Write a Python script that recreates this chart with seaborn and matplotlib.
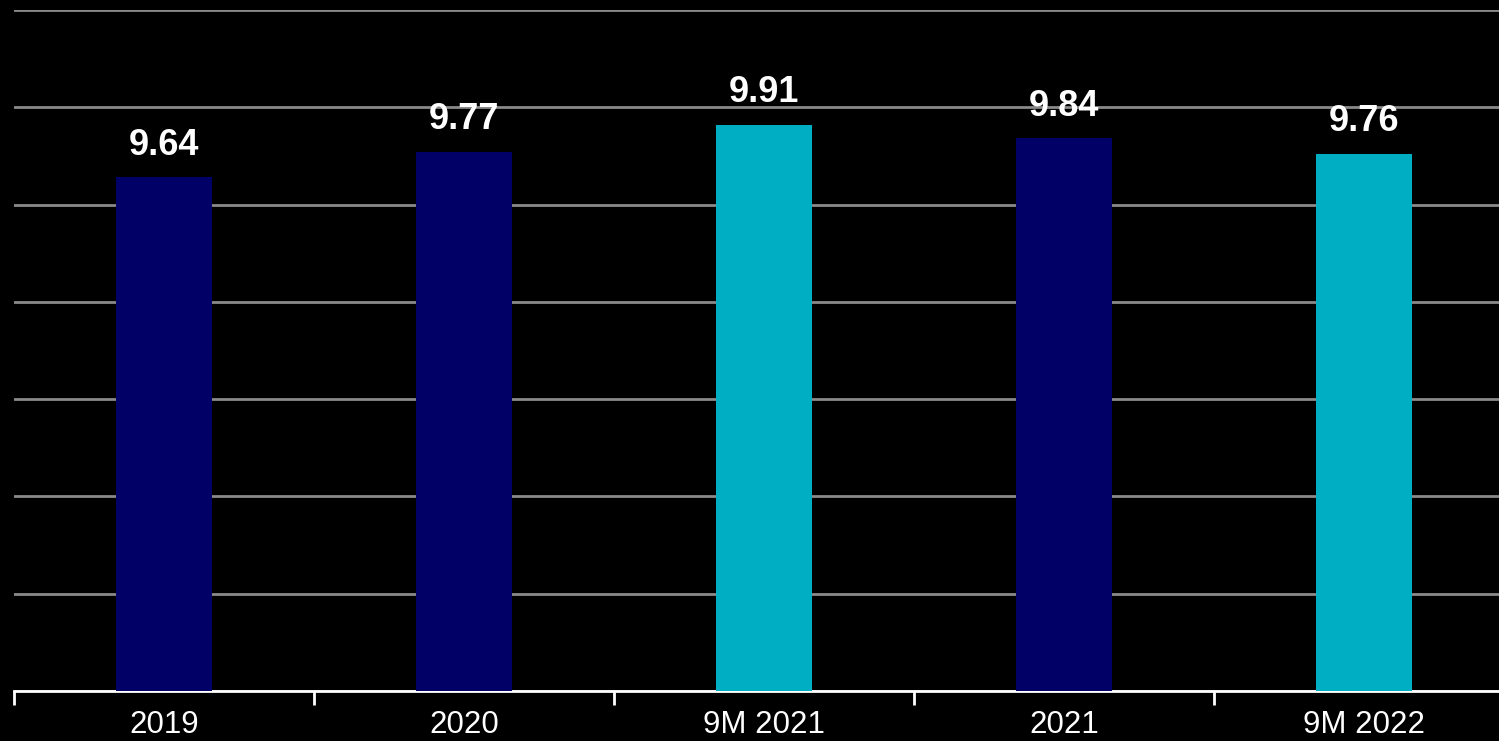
import matplotlib
matplotlib.use("Agg")
import matplotlib.pyplot as plt
import seaborn as sns
import pandas as pd
import numpy as np

categories = ["2019", "2020", "9M 2021", "2021", "9M 2022"]
values = [9.64, 9.77, 9.91, 9.84, 9.76]
bar_colors = ["#000066", "#000066", "#00AEC3", "#000066", "#00AEC3"]

sns.set_style("dark")
plt.rcParams["font.family"] = ["Liberation Sans", "DejaVu Sans"]

df = pd.DataFrame({"category": categories, "value": values})

fig = plt.figure(figsize=(14.99, 7.41), dpi=100, facecolor="black")
# axes run slightly past the right edge of the canvas
ax = fig.add_axes([14 / 1499, 50 / 741, 1500 / 1499, 681 / 741])
ax.set_facecolor("black")

sns.barplot(data=df, x="category", y="value", hue="category",
            palette=bar_colors, dodge=False, width=0.317,
            legend=False, ax=ax, zorder=3, saturation=1,
            edgecolor="none", linewidth=0)

ax.set_ylim(7.0, 10.5)
ax.set_xlim(-0.5, 4.5)
ax.set_yticks(np.arange(7.0, 10.51, 0.5))
ax.yaxis.grid(True, color="#8a8a8a", linewidth=2, zorder=0)
ax.xaxis.grid(False)
ax.set_axisbelow(True)
ax.tick_params(axis="y", left=False, labelleft=False)

ax.set_xticks(range(len(categories)))
ax.set_xticklabels(categories, color="white", fontsize=22.5)
ax.tick_params(axis="x", which="major", bottom=True, length=0, pad=14)
ax.set_xticks(np.arange(-0.5, len(categories), 1.0), minor=True)
ax.tick_params(axis="x", which="minor", bottom=True, length=10, width=2,
               color="white")

for side in ["top", "right", "left"]:
    ax.spines[side].set_visible(False)
ax.spines["bottom"].set_color("white")
ax.spines["bottom"].set_linewidth(2)
ax.set_xlabel("")
ax.set_ylabel("")

for i, v in enumerate(values):
    ax.text(i, v + 0.075, f"{v:.2f}", ha="center", va="bottom",
            color="white", fontsize=26, fontweight="bold")

fig.savefig("out.png", dpi=100, facecolor="black")
